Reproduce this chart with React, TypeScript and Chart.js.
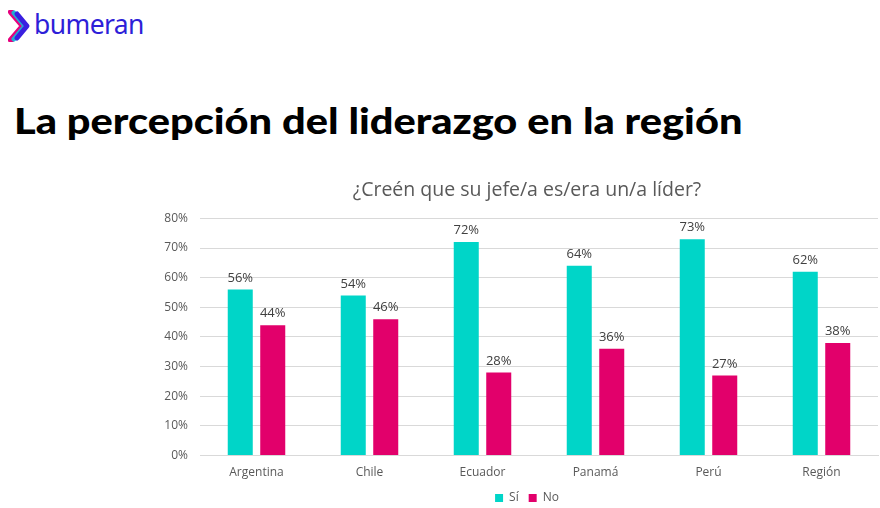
import React, { useEffect, useRef } from "react";
import { Chart, registerables } from "chart.js";

Chart.register(...registerables);

const categories = ["Argentina", "Chile", "Ecuador", "Panamá", "Perú", "Región"];
const siValues = [56, 54, 72, 64, 73, 62];
const noValues = [44, 46, 28, 36, 27, 38];
const seriesNames = ["Sí", "No"];
const yTicks = [0, 10, 20, 30, 40, 50, 60, 70, 80];
const chartTitle = "¿Creén que su jefe/a es/era un/a líder?";
const pageTitle = "La percepción del liderazgo en la región";

const CYAN = "#00D5C8";
const PINK = "#E2006B";
const GRAY = "#595959";

const valueLabels = {
  id: "valueLabels",
  afterDatasetsDraw(chart: any) {
    const ctx = chart.ctx;
    ctx.save();
    ctx.font = "13px 'Open Sans'";
    ctx.fillStyle = "#404040";
    ctx.textAlign = "center";
    ctx.textBaseline = "bottom";
    chart.data.datasets.forEach((ds: any, i: number) => {
      const meta = chart.getDatasetMeta(i);
      meta.data.forEach((bar: any, j: number) => {
        ctx.fillText(ds.data[j] + "%", bar.x, bar.y - 5);
      });
    });
    ctx.restore();
  },
};

function ChartBox() {
  const ref = useRef<HTMLCanvasElement>(null);
  useEffect(() => {
    const chart = new Chart(ref.current!, {
      type: "bar",
      data: {
        labels: categories,
        datasets: [
          { label: seriesNames[0], data: siValues, backgroundColor: CYAN, categoryPercentage: 0.575, barPercentage: 0.77 },
          { label: seriesNames[1], data: noValues, backgroundColor: PINK, categoryPercentage: 0.575, barPercentage: 0.77 },
        ],
      },
      options: {
        animation: false,
        responsive: false,
        maintainAspectRatio: false,
        layout: { padding: { left: 0, right: 0, top: 0, bottom: 0 } },
        plugins: {
          title: {
            display: true,
            text: chartTitle,
            color: GRAY,
            font: { family: "'Open Sans'", size: 19.5, weight: "normal" as any },
            padding: { top: 11, bottom: 16 },
          },
          legend: {
            position: "bottom",
            labels: {
              color: GRAY,
              font: { family: "'Open Sans'", size: 12 },
              boxWidth: 8,
              boxHeight: 8,
              padding: 10,
            },
          },
          tooltip: { enabled: false },
        },
        scales: {
          x: {
            grid: { display: false },
            border: { display: true, color: "#d9d9d9" },
            ticks: { color: GRAY, font: { family: "'Open Sans'", size: 12 }, padding: 2 },
          },
          y: {
            min: 0,
            max: 80,
            afterBuildTicks(scale: any) {
              scale.ticks = yTicks.map((v) => ({ value: v }));
            },
            afterFit(scale: any) {
              scale.width = 200;
            },
            grid: { color: "#d9d9d9", drawTicks: false },
            border: { display: false },
            ticks: {
              color: GRAY,
              font: { family: "'Open Sans'", size: 12 },
              padding: 12,
              callback: (v: any) => v + "%",
            },
          },
          spacer: {
            type: "linear",
            position: "right",
            display: true,
            grid: { display: false, drawTicks: false },
            border: { display: false },
            ticks: { display: false },
            afterFit(scale: any) {
              scale.width = 176;
            },
          },
        },
      },
      plugins: [valueLabels],
    });
    return () => chart.destroy();
  }, []);
  return <canvas ref={ref} width={1054} height={346} style={{ position: "absolute", left: 0, top: 168 }} />;
}

function Logo() {
  return (
    <div style={{ position: "absolute", left: 8, top: 10, display: "flex", alignItems: "center" }}>
      <svg width="26" height="32" viewBox="0 0 26 32">
        <path d="M3 2 L15 16 L3 30" stroke="#E6007E" strokeWidth="6" fill="none" strokeLinecap="round" strokeLinejoin="round" />
        <path d="M6 3 L17 16 L6 29" stroke="#00C8E0" strokeWidth="5" fill="none" strokeLinecap="round" strokeLinejoin="round" opacity="0.85" />
        <path d="M9 4 L19 16 L9 28" stroke="#3A1FE0" strokeWidth="5" fill="none" strokeLinecap="round" strokeLinejoin="round" />
      </svg>
      <span style={{ fontFamily: "'Noto Sans', sans-serif", fontSize: 26.5, color: "#2E1FD8", marginTop: -4, letterSpacing: -0.6 }}>bumeran</span>
    </div>
  );
}

export default function App() {
  useEffect(() => {
    document.body.style.margin = "0";
  }, []);
  return (
    <div style={{ position: "relative", width: 880, height: 508, background: "#fff", overflow: "hidden" }}>
      <Logo />
      <div
        style={{
          position: "absolute",
          left: 14,
          top: 98,
          fontFamily: "Lato, sans-serif",
          fontWeight: 900,
          fontSize: 36,
          color: "#000",
          whiteSpace: "nowrap",
          transform: "scaleX(1.154)",
          transformOrigin: "left center",
        }}
      >
        {pageTitle}
      </div>
      <ChartBox />
    </div>
  );
}
